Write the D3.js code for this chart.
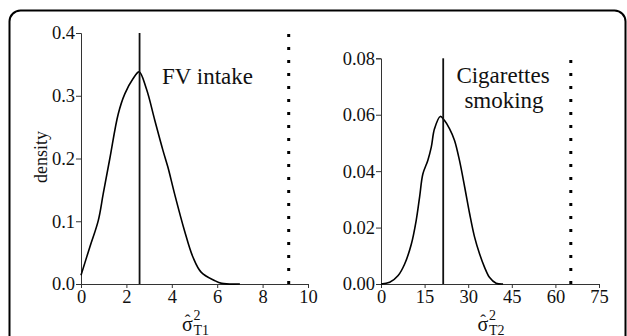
<!DOCTYPE html>
<html>
<head>
<meta charset="utf-8">
<script src="https://cdn.jsdelivr.net/npm/d3@7"></script>
<style>
  body { margin: 0; background: #fff; }
  svg text { font-family: "Liberation Serif", "Times New Roman", Times, "DejaVu Serif", serif; fill: #111; }
</style>
</head>
<body>
<div id="graph"></div>
<script>
// FV intake panel
const fvX = [0, 0.39, 0.76, 0.98, 1.27, 1.64, 1.93, 2.29, 2.56, 2.88, 3.25, 3.61, 3.83, 4.12, 4.56, 4.93, 5.29, 5.88, 6.2, 7.0];
const fvY = [0.014, 0.059, 0.101, 0.144, 0.200, 0.271, 0.303, 0.327, 0.338, 0.311, 0.261, 0.213, 0.186, 0.144, 0.085, 0.043, 0.019, 0.0056, 0.001, 0];
const fvRef = [2.58, 9.15];         // solid, dotted
const fvXTicks = [0, 2, 4, 6, 8, 10];
const fvYTicks = [0, 0.1, 0.2, 0.3, 0.4];

// Cigarettes smoking panel
const cigX = [0, 3.0, 5.9, 8.1, 10.4, 12.1, 13.3, 14.4, 16.1, 17.3, 18.4, 20.4, 21.8, 23.6, 25.3, 27.0, 28.8, 30.5, 32.2, 33.9, 35.6, 37.3, 39.6, 42];
const cigY = [0, 0.0006, 0.003, 0.007, 0.014, 0.0225, 0.031, 0.039, 0.0438, 0.0485, 0.055, 0.0594, 0.058, 0.055, 0.0509, 0.0438, 0.0343, 0.0249, 0.0166, 0.0107, 0.006, 0.0024, 0.0003, 0];
const cigRef = [21.4, 65.3];
const cigXTicks = [0, 15, 30, 45, 60, 75];
const cigYTicks = [0, 0.02, 0.04, 0.06, 0.08];

const W = 627, H = 336;
const FONT = "'Liberation Serif', 'Times New Roman', Times, 'DejaVu Serif', serif";

const svg = d3.select("#graph")
  .append("svg")
  .attr("width", W)
  .attr("height", H);

// rounded frame running off the right/bottom edge
svg.append("rect")
  .attr("x", 9.5)
  .attr("y", 10.5)
  .attr("width", 616)
  .attr("height", 400)
  .attr("rx", 11)
  .attr("fill", "none")
  .attr("stroke", "#000")
  .attr("stroke-width", 2);

function label(sel) {
  return sel.attr("font-family", FONT).style("font-family", FONT).attr("fill", "#111");
}

function panel(opt) {
  const x = d3.scaleLinear().domain(opt.xDomain).range(opt.xRange);
  const y = d3.scaleLinear().domain(opt.yDomain).range([284, opt.yTop]);
  const g = svg.append("g");

  // axes
  const ax = g.append("g")
    .attr("transform", "translate(0," + y(0) + ")")
    .call(d3.axisBottom(x).tickValues(opt.xTicks).tickSize(4).tickPadding(1).tickFormat(d3.format("d")));
  const ay = g.append("g")
    .attr("transform", "translate(" + x(0) + ",0)")
    .call(d3.axisLeft(y).tickValues(opt.yTicks).tickSize(5).tickPadding(1).tickFormat(d3.format(opt.yFmt)));

  [ax, ay].forEach(a => {
    a.attr("font-family", FONT);
    a.select(".domain").attr("stroke", "#333");
    a.selectAll(".tick line").attr("stroke", "#333");
    label(a.selectAll("text")).style("font-size", "18.5px");
  });
  ax.selectAll("text").attr("dy", "0.76em");

  // density curve
  const pts = opt.xs.map((v, i) => [v, opt.ys[i]]);
  g.append("path")
    .datum(pts)
    .attr("fill", "none")
    .attr("stroke", "#000")
    .attr("stroke-width", 1.6)
    .attr("d", d3.line().x(d => x(d[0])).y(d => y(d[1])).curve(d3.curveCatmullRom));

  // observed value (solid) and reference (dotted)
  g.append("line")
    .attr("x1", x(opt.ref[0])).attr("x2", x(opt.ref[0]))
    .attr("y1", y(0)).attr("y2", y(opt.yDomain[1]))
    .attr("stroke", "#111")
    .attr("stroke-width", 1.8);

  g.append("line")
    .attr("x1", x(opt.ref[1])).attr("x2", x(opt.ref[1]))
    .attr("y1", y(0)).attr("y2", y(opt.yDomain[1]))
    .attr("stroke", "#000")
    .attr("stroke-width", 3)
    .attr("stroke-dasharray", "3,10");

  // x axis label: sigma-hat squared with subscript
  const cx = (opt.xRange[0] + opt.xRange[1]) / 2;
  label(g.append("text"))
    .attr("x", cx - 7).attr("y", 331)
    .attr("text-anchor", "middle")
    .style("font-size", "20px")
    .text("σ");
  label(g.append("text"))
    .attr("x", cx - 7).attr("y", 326)
    .attr("text-anchor", "middle")
    .style("font-size", "17px")
    .text("ˆ");
  label(g.append("text"))
    .attr("x", cx - 1).attr("y", 320)
    .style("font-size", "14px")
    .text("2");
  label(g.append("text"))
    .attr("x", cx - 1).attr("y", 335)
    .style("font-size", "14px")
    .text(opt.sub);

  return { x, y, g };
}

panel({
  xs: fvX, ys: fvY, ref: fvRef,
  xDomain: [0, 10], xRange: [81, 308],
  yDomain: [0, 0.4], yTop: 33,
  xTicks: fvXTicks, yTicks: fvYTicks, yFmt: ".1f",
  sub: "T1"
});

panel({
  xs: cigX, ys: cigY, ref: cigRef,
  xDomain: [0, 75], xRange: [381, 599],
  yDomain: [0, 0.08], yTop: 58.3,
  xTicks: cigXTicks, yTicks: cigYTicks, yFmt: ".2f",
  sub: "T2"
});

// y axis title
label(svg.append("text"))
  .attr("transform", "translate(47,157)rotate(-90)")
  .attr("text-anchor", "middle")
  .style("font-size", "18px")
  .text("density");

// panel annotations
label(svg.append("text"))
  .attr("x", 162).attr("y", 84)
  .style("font-size", "23px")
  .text("FV intake");

label(svg.append("text"))
  .attr("x", 503).attr("y", 83)
  .attr("text-anchor", "middle")
  .style("font-size", "23px")
  .text("Cigarettes");

label(svg.append("text"))
  .attr("x", 504).attr("y", 108)
  .attr("text-anchor", "middle")
  .style("font-size", "23px")
  .text("smoking");
</script>
</body>
</html>
